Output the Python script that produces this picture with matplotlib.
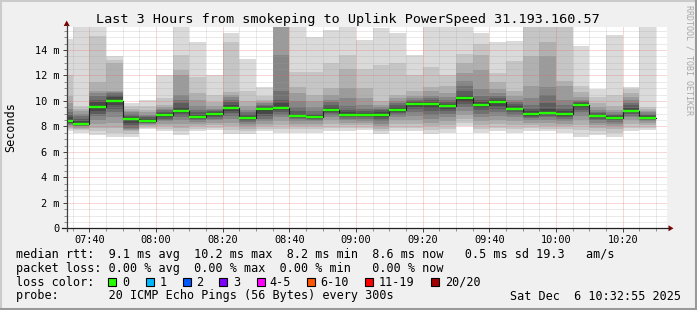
import matplotlib
matplotlib.use("Agg")
import matplotlib.pyplot as plt
from matplotlib.patches import Rectangle, Polygon
from matplotlib.lines import Line2D
from matplotlib.ticker import MultipleLocator, FixedLocator
import numpy as np

plt.rcParams['font.family'] = ['DejaVu Sans Mono']

# ---------------- data ----------------
bar_times = ["07:30", "07:35", "07:40", "07:45", "07:50", "07:55", "08:00", "08:05", "08:10",
             "08:15", "08:20", "08:25", "08:30", "08:35", "08:40", "08:45", "08:50", "08:55",
             "09:00", "09:05", "09:10", "09:15", "09:20", "09:25", "09:30", "09:35", "09:40",
             "09:45", "09:50", "09:55", "10:00", "10:05", "10:10", "10:15", "10:20", "10:25"]

# median rtt per 5-minute step (ms)
median_rtt = [8.44, 8.18, 9.54, 10.02, 8.60, 8.44, 8.91, 9.23, 8.76, 8.97, 9.44, 8.68,
              9.34, 9.47, 8.81, 8.76, 9.31, 8.90, 8.89, 8.89, 9.31, 9.73, 9.76, 9.60,
              10.23, 9.68, 9.94, 9.39, 8.97, 9.05, 8.97, 9.68, 8.81, 8.68, 9.23, 8.68]

# sorted ping values (ms) per step that make up the smoke (18 per step)
smoke_pings = [
    [7.6, 7.8, 7.9, 8.0, 8.1, 8.2, 8.25, 8.3, 8.4, 8.5, 8.7, 8.9, 9.1, 9.4, 9.8, 10.4, 12.0, 14.9],
    [7.5, 7.7, 7.8, 7.9, 8.0, 8.05, 8.1, 8.12, 8.15, 8.25, 8.4, 8.6, 8.8, 9.0, 9.2, 9.4, 9.6, 16.5],
    [7.3, 7.6, 7.9, 8.2, 8.5, 8.8, 9.0, 9.2, 9.45, 9.6, 9.9, 10.1, 10.4, 10.6, 10.8, 11.5, 15.1, 16.5],
    [7.2, 7.5, 7.9, 8.3, 8.7, 9.1, 9.4, 9.7, 9.95, 10.1, 10.3, 10.5, 10.6, 10.7, 10.8, 13.0, 13.2, 13.5],
    [7.2, 7.4, 7.6, 7.7, 7.8, 7.9, 8.1, 8.3, 8.5, 8.65, 8.75, 8.85, 8.95, 9.1, 9.2, 9.4, 9.6, 9.8],
    [7.8, 7.9, 8.0, 8.1, 8.2, 8.25, 8.3, 8.35, 8.4, 8.5, 8.6, 8.7, 8.8, 8.9, 9.1, 9.3, 9.6, 10.1],
    [7.6, 7.8, 8.0, 8.2, 8.4, 8.5, 8.6, 8.7, 8.85, 8.95, 9.05, 9.15, 9.25, 9.35, 9.5, 9.7, 10.2, 12.0],
    [7.3, 7.6, 7.9, 8.2, 8.5, 8.7, 8.9, 9.05, 9.15, 9.3, 9.5, 9.8, 10.1, 10.5, 12.0, 12.4, 13.6, 15.8],
    [7.6, 7.8, 8.0, 8.2, 8.35, 8.5, 8.6, 8.65, 8.7, 8.8, 8.9, 9.1, 9.3, 9.6, 10.1, 10.6, 11.9, 14.6],
    [7.7, 7.9, 8.1, 8.3, 8.5, 8.6, 8.7, 8.8, 8.9, 9.0, 9.1, 9.2, 9.3, 9.4, 9.6, 9.9, 10.5, 12.0],
    [7.4, 7.7, 8.0, 8.3, 8.6, 8.85, 9.05, 9.2, 9.35, 9.5, 9.7, 9.9, 10.1, 10.3, 10.5, 10.7, 14.6, 15.3],
    [7.4, 7.6, 7.8, 8.0, 8.2, 8.35, 8.45, 8.55, 8.63, 8.72, 8.85, 9.0, 9.15, 9.3, 9.6, 10.0, 10.8, 13.3],
    [7.6, 7.8, 8.0, 8.2, 8.4, 8.6, 8.8, 9.0, 9.2, 9.4, 9.5, 9.6, 9.7, 9.8, 9.9, 10.1, 10.4, 11.1],
    [7.5, 7.8, 8.1, 8.4, 8.7, 8.9, 9.1, 9.25, 9.4, 9.55, 9.8, 10.1, 10.8, 13.6, 15.9, 16.2, 16.5, 17.0],
    [7.5, 7.8, 8.0, 8.2, 8.4, 8.55, 8.65, 8.72, 8.78, 8.85, 9.0, 9.2, 9.5, 10.0, 10.6, 11.1, 12.3, 16.5],
    [7.5, 7.8, 8.0, 8.2, 8.4, 8.5, 8.6, 8.65, 8.72, 8.8, 8.9, 9.0, 9.2, 9.5, 10.0, 10.5, 12.3, 15.0],
    [7.6, 7.9, 8.2, 8.5, 8.7, 8.9, 9.05, 9.15, 9.25, 9.35, 9.5, 9.7, 9.9, 10.1, 10.5, 11.0, 13.0, 15.6],
    [7.6, 7.9, 8.1, 8.3, 8.5, 8.6, 8.7, 8.78, 8.84, 8.92, 9.1, 9.3, 9.6, 10.2, 11.0, 12.5, 13.6, 16.5],
    [7.7, 7.9, 8.1, 8.3, 8.45, 8.6, 8.7, 8.78, 8.84, 8.92, 9.05, 9.2, 9.4, 9.7, 10.2, 11.0, 12.5, 14.8],
    [7.4, 7.6, 7.8, 8.0, 8.2, 8.4, 8.55, 8.7, 8.82, 8.95, 9.1, 9.25, 9.4, 9.55, 9.7, 10.0, 12.8, 15.7],
    [7.6, 7.9, 8.2, 8.5, 8.7, 8.9, 9.05, 9.15, 9.25, 9.35, 9.5, 9.65, 9.8, 10.0, 10.2, 10.5, 13.0, 15.3],
    [7.6, 7.9, 8.2, 8.5, 8.8, 9.1, 9.35, 9.5, 9.65, 9.8, 9.9, 10.0, 10.1, 10.2, 10.4, 10.8, 12.0, 13.6],
    [7.4, 7.7, 8.0, 8.3, 8.6, 8.9, 9.2, 9.45, 9.65, 9.85, 9.95, 10.05, 10.2, 10.4, 10.8, 11.1, 12.7, 16.5],
    [7.5, 7.8, 8.1, 8.4, 8.7, 8.95, 9.2, 9.35, 9.5, 9.65, 9.75, 9.9, 10.1, 10.3, 10.6, 11.2, 12.0, 15.9],
    [8.0, 8.3, 8.6, 8.9, 9.2, 9.5, 9.75, 9.95, 10.1, 10.3, 10.5, 10.8, 11.2, 11.6, 12.2, 13.0, 13.7, 16.5],
    [7.5, 7.8, 8.1, 8.4, 8.7, 9.0, 9.25, 9.45, 9.6, 9.75, 9.9, 10.1, 10.4, 10.9, 12.4, 13.6, 14.5, 15.3],
    [7.6, 7.9, 8.2, 8.5, 8.8, 9.1, 9.4, 9.6, 9.8, 10.0, 10.1, 10.25, 10.4, 10.6, 10.9, 11.5, 12.2, 14.6],
    [7.5, 7.8, 8.1, 8.4, 8.7, 8.9, 9.1, 9.25, 9.35, 9.45, 9.6, 9.75, 9.9, 10.1, 10.4, 10.8, 13.1, 14.7],
    [7.6, 7.9, 8.1, 8.3, 8.5, 8.65, 8.75, 8.85, 8.92, 9.02, 9.2, 9.4, 9.7, 10.2, 11.2, 13.5, 16.3, 16.8],
    [7.6, 7.8, 8.0, 8.3, 8.5, 8.7, 8.85, 8.95, 9.0, 9.1, 9.4, 9.8, 10.5, 11.1, 13.5, 14.6, 16.2, 16.8],
    [7.5, 7.8, 8.0, 8.2, 8.4, 8.6, 8.75, 8.85, 8.92, 9.02, 9.2, 9.4, 9.7, 10.1, 11.2, 11.6, 16.0, 16.5],
    [7.2, 7.7, 8.1, 8.5, 8.8, 9.1, 9.3, 9.45, 9.6, 9.75, 9.85, 9.95, 10.0, 10.1, 10.3, 10.7, 11.2, 14.3],
    [7.3, 7.6, 7.9, 8.1, 8.3, 8.5, 8.6, 8.7, 8.76, 8.86, 8.95, 9.05, 9.15, 9.3, 9.5, 9.8, 10.3, 10.9],
    [7.2, 7.5, 7.8, 8.0, 8.2, 8.35, 8.5, 8.58, 8.64, 8.72, 8.8, 8.9, 9.0, 9.15, 9.3, 9.6, 10.5, 15.2],
    [7.6, 7.9, 8.2, 8.5, 8.7, 8.85, 9.0, 9.1, 9.18, 9.28, 9.45, 9.65, 9.85, 10.1, 10.3, 10.6, 10.9, 11.1],
    [7.7, 7.9, 8.1, 8.25, 8.4, 8.5, 8.58, 8.62, 8.66, 8.72, 8.8, 8.9, 9.0, 9.1, 9.2, 9.35, 9.5, 16.5],
]

x_tick_labels = ["07:40", "08:00", "08:20", "08:40", "09:00", "09:20", "09:40", "10:00", "10:20"]
y_tick_values = [0, 2, 4, 6, 8, 10, 12, 14]
y_tick_labels = ["0", "2 m", "4 m", "6 m", "8 m", "10 m", "12 m", "14 m"]

loss_labels = ["0", "1", "2", "3", "4-5", "6-10", "11-19", "20/20"]
loss_colors = ["#26ff00", "#00b8ff", "#0059ff", "#7e00ff", "#ff00ff", "#ff5500", "#ff0000", "#a10000"]

title = "Last 3 Hours from smokeping to Uplink PowerSpeed 31.193.160.57"
legend_rtt = "median rtt:  9.1 ms avg  10.2 ms max  8.2 ms min  8.6 ms now   0.5 ms sd 19.3   am/s"
legend_loss = "packet loss: 0.00 % avg  0.00 % max  0.00 % min   0.00 % now"
legend_probe = "probe:       20 ICMP Echo Pings (56 Bytes) every 300s"
stamp = "Sat Dec  6 10:32:55 2025"

# ---------------- layout ----------------
W, H, DPI = 697, 310, 100


def fx(x):
    return x / W


def fy(y):
    return 1 - y / H


def to_min(s):
    h, m = s.split(":")
    return int(h) * 60 + int(m)


fig = plt.figure(figsize=(W / DPI, H / DPI), dpi=DPI, facecolor="#F0F0F0")

px0, px1 = 66.7, 666.7
py0, py1 = 228.3, 27.3
ax = fig.add_axes([fx(px0), fy(py0), (px1 - px0) / W, (py0 - py1) / H])
ax.set_facecolor("white")
t_end = to_min("10:33") + 0.2
t_start = t_end - 180
ax.set_xlim(t_start, t_end)
ax.set_ylim(0, 15.78)

starts = np.array([to_min(t) for t in bar_times], dtype=float)
P = np.array(smoke_pings)
med = np.array(median_rtt)

# smoke bands (outer pairs light, inner pairs dark)
n = P.shape[1]
half = n // 2
for i in range(half):
    shade = int(190 / half * (half - (i + 1))) + 50
    col = "#%02x%02x%02x" % (shade, shade, shade)
    lo = P[:, i]
    hi = P[:, n - 1 - i]
    ax.bar(starts, hi - lo, width=5, bottom=lo, align="edge", color=col,
           linewidth=0, antialiased=False, zorder=1 + i * 0.01)

# median step line and loss-coloured median segments
edges = np.append(starts, starts[-1] + 5)
ax.step(edges, np.append(med, med[-1]), where="post", color="#202020", lw=0.8, zorder=4)
ax.hlines(med, starts, starts + 5, color=loss_colors[0], lw=1.7, zorder=5)

# ticks / grid
major_x = [to_min(t) for t in x_tick_labels]
ax.xaxis.set_major_locator(FixedLocator(major_x))
ax.set_xticklabels(x_tick_labels)
ax.xaxis.set_minor_locator(MultipleLocator(5))
ax.set_yticks(y_tick_values)
ax.set_yticklabels(y_tick_labels)
ax.yaxis.set_minor_locator(MultipleLocator(0.5))

ax.set_axisbelow(False)
ax.grid(which="minor", color="#a0a0a0", alpha=0.42, lw=0.72, ls=(0, (1, 1)))
ax.grid(which="major", color="#e86060", alpha=0.5, lw=0.72, ls=(0, (1, 1)))

ax.tick_params(axis="both", which="major", direction="out", length=3, width=0.7,
               color="#404040", labelsize=7.4, pad=2)
ax.tick_params(axis="both", which="minor", direction="out", length=2, width=0.7,
               color="#909090")
ax.tick_params(axis="x", which="major", pad=2)

for s in ax.spines.values():
    s.set_visible(False)

# axis lines with arrows
fig.add_artist(Line2D([fx(62), fx(669)], [fy(py0), fy(py0)], color="#202020", lw=0.9))
fig.add_artist(Polygon([[fx(668.5), fy(py0 - 3)], [fx(673.5), fy(py0)], [fx(668.5), fy(py0 + 3)]],
                       closed=True, color="#7f0000", lw=0))
fig.add_artist(Line2D([fx(px0), fx(px0)], [fy(py0 + 3), fy(25)], color="#404040", lw=0.9))
fig.add_artist(Polygon([[fx(px0 - 3), fy(26)], [fx(px0), fy(20.5)], [fx(px0 + 3), fy(26)]],
                       closed=True, color="#7f0000", lw=0))

# title / labels
fig.text(fx(348), fy(23.5), title, fontsize=9.7, ha="center", va="baseline")
fig.text(fx(11), fy(127.5), "Seconds", fontsize=8.5, rotation=90, ha="center", va="center")
fig.text(fx(688.5), fy(60), "RRDTOOL / TOBI OETIKER", fontsize=6, rotation=270,
         ha="center", va="center", color="#a8a8a8")

# legend
fs = 8.5
fig.text(fx(16), fy(257.7), legend_rtt, fontsize=fs, va="baseline", ha="left")
fig.text(fx(16), fy(271.7), legend_loss, fontsize=fs, va="baseline", ha="left")
fig.text(fx(16), fy(285.7), "loss color:", fontsize=fs, va="baseline", ha="left")
box_x = [108.3, 145.7, 182.7, 219.3, 256.7, 307.3, 365.3, 430.7]
txt_x = [123.3, 160.5, 197.5, 234.0, 270.7, 321.7, 379.3, 446.0]
for bx, tx, lab, col in zip(box_x, txt_x, loss_labels, loss_colors):
    fig.add_artist(Rectangle((fx(bx), fy(286.2)), 8 / W, 8 / H, facecolor=col,
                             edgecolor="black", lw=0.8, transform=fig.transFigure))
    fig.text(fx(tx - 1), fy(285.7), lab, fontsize=fs, va="baseline", ha="left")
fig.text(fx(16), fy(299.5), legend_probe, fontsize=fs, va="baseline", ha="left")
fig.text(fx(681), fy(299.5), stamp, fontsize=fs, va="baseline", ha="right")

# outer frame
fig.add_artist(Line2D([0, 1], [fy(0.5), fy(0.5)], color="#CBCBCB", lw=1.5))
fig.add_artist(Line2D([fx(0.5), fx(0.5)], [0, 1], color="#CBCBCB", lw=1.5))
fig.add_artist(Line2D([0, 1], [fy(309), fy(309)], color="#999999", lw=1.5))
fig.add_artist(Line2D([fx(696), fx(696)], [0, 1], color="#999999", lw=1.5))

fig.savefig("out.png", dpi=DPI, facecolor=fig.get_facecolor())
